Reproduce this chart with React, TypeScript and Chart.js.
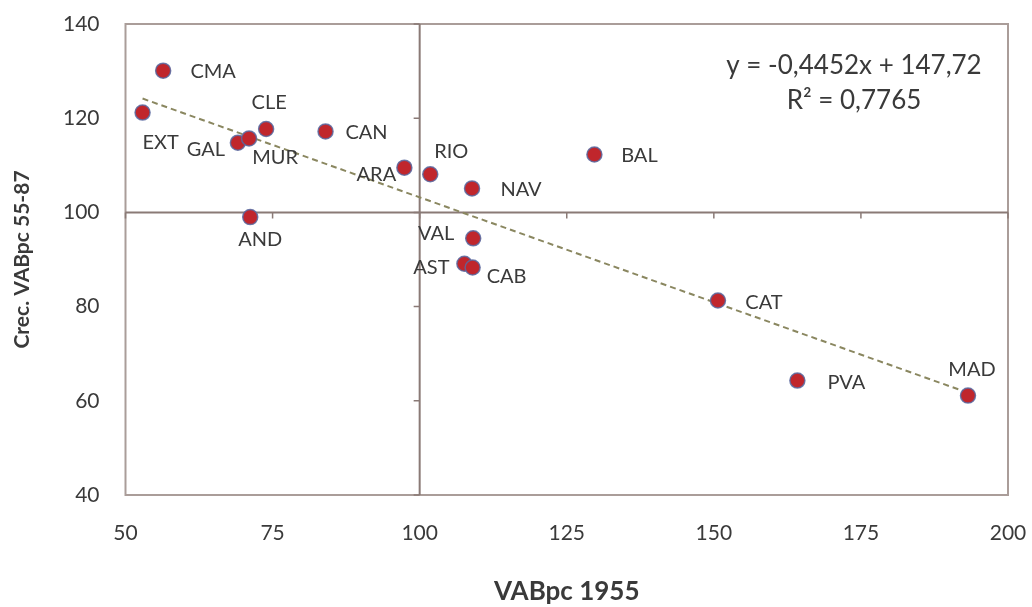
import React, { useEffect, useRef } from "react";
import { Chart, registerables } from "chart.js";

Chart.register(...registerables);

// ---- data ----
const regions = ["CMA", "EXT", "GAL", "MUR", "CLE", "CAN", "ARA", "RIO", "NAV", "BAL", "AND", "VAL", "AST", "CAB", "CAT", "PVA", "MAD"];
const vabpc1955 = [56.4, 52.9, 69.1, 71.0, 73.9, 84.0, 97.4, 101.8, 108.9, 129.7, 71.2, 109.1, 107.6, 109.0, 150.7, 164.2, 193.2];
const crecVabpc5587 = [130.1, 121.2, 114.8, 115.7, 117.7, 117.2, 109.5, 108.1, 105.1, 112.3, 99.0, 94.5, 89.1, 88.3, 81.3, 64.3, 61.1];
const xTickValues = [50, 75, 100, 125, 150, 175, 200];
const yTickValues = [40, 60, 80, 100, 120, 140];
const trendSlope = -0.4452;
const trendIntercept = 147.72;
const equationLines = ["y = -0,4452x + 147,72", "R² = 0,7765"];
const xTitle = "VABpc 1955";
const yTitle = "Crec. VABpc 55-87";
const crossX = 100;
const crossY = 100;

// ---- label placement (style, pixel offsets of label centre from its point) ----
const labelOffsets: [number, number][] = [
  [50, 1], [18, 30], [-32, 7], [26, 19], [3, -26], [41, 1], [-28, 7], [21, -23], [49, 1],
  [45, 1], [10, 22], [-37, -5], [-33, 4], [34, 9], [46, 2], [49, 2], [4, -26],
];

const FONT = "Lato, 'Open Sans', sans-serif";
const TEXT = "#3a3a3a";

const decorPlugin = {
  id: "decor",
  beforeDatasetsDraw(chart: any) {
    const { ctx, chartArea: a, scales } = chart;
    const xs = scales.x, ys = scales.y;
    ctx.save();
    // plot box
    ctx.strokeStyle = "#aa9d99";
    ctx.lineWidth = 2;
    ctx.strokeRect(a.left, a.top, a.right - a.left, a.bottom - a.top);
    // crossing axes
    ctx.strokeStyle = "#8a7a76";
    ctx.lineWidth = 2;
    const px = xs.getPixelForValue(crossX);
    const py = ys.getPixelForValue(crossY);
    ctx.beginPath();
    ctx.moveTo(px, a.top);
    ctx.lineTo(px, a.bottom);
    ctx.moveTo(a.left, py);
    ctx.lineTo(a.right, py);
    ctx.stroke();
    // tick marks on the crossing axes
    ctx.lineWidth = 1.5;
    ctx.beginPath();
    xTickValues.forEach((v) => {
      const x = xs.getPixelForValue(v);
      ctx.moveTo(x, py);
      ctx.lineTo(x, py + 6);
    });
    yTickValues.forEach((v) => {
      const y = ys.getPixelForValue(v);
      ctx.moveTo(px, y);
      ctx.lineTo(px - 6, y);
    });
    ctx.stroke();
    ctx.restore();
  },
  afterDatasetsDraw(chart: any) {
    const { ctx, chartArea: a, scales } = chart;
    const xs = scales.x, ys = scales.y;
    ctx.save();
    ctx.fillStyle = TEXT;
    ctx.textAlign = "center";
    ctx.textBaseline = "middle";
    ctx.font = `20px ${FONT}`;
    regions.forEach((name, i) => {
      const x = xs.getPixelForValue(vabpc1955[i]);
      const y = ys.getPixelForValue(crecVabpc5587[i]);
      const [dx, dy] = labelOffsets[i];
      ctx.fillText(name, x + dx, y + dy);
    });
    ctx.font = `26px ${FONT}`;
    const cx = a.right - 154;
    ctx.fillText(equationLines[0], cx, a.top + 42);
    ctx.fillText(equationLines[1], cx, a.top + 77);
    ctx.restore();
  },
};

export default function App() {
  const ref = useRef<HTMLCanvasElement | null>(null);
  useEffect(() => {
    if (!ref.current) return;
    const xMin = Math.min(...vabpc1955);
    const xMax = Math.max(...vabpc1955);
    const chart = new Chart(ref.current, {
      type: "scatter",
      data: {
        datasets: [
          {
            label: "Regiones",
            data: vabpc1955.map((x, i) => ({ x, y: crecVabpc5587[i] })),
            backgroundColor: "#c0262c",
            borderColor: "rgba(88,104,160,0.85)",
            borderWidth: 1.5,
            pointRadius: 7.5,
            pointHoverRadius: 7.5,
          },
          {
            type: "line",
            label: "Tendencia",
            data: [
              { x: xMin, y: trendSlope * xMin + trendIntercept },
              { x: xMax, y: trendSlope * xMax + trendIntercept },
            ],
            borderColor: "#8a8760",
            borderWidth: 2,
            borderDash: [6, 4],
            pointRadius: 0,
            fill: false,
          } as any,
        ],
      },
      options: {
        animation: false,
        responsive: true,
        maintainAspectRatio: false,
        layout: { padding: { left: 0, top: 24, right: 24, bottom: 0 } },
        plugins: { legend: { display: false }, tooltip: { enabled: false } },
        scales: {
          x: {
            type: "linear",
            min: 50,
            max: 200,
            afterBuildTicks: (s: any) => { s.ticks = xTickValues.map((value) => ({ value })); },
            afterFit: (s: any) => { s.height = 112; s.paddingLeft = 0; s.paddingRight = 0; },
            grid: { display: false, drawTicks: false },
            border: { display: false },
            ticks: { font: { family: FONT, size: 21 }, color: TEXT, padding: 26 },
            title: {
              display: true,
              text: xTitle,
              font: { family: FONT, size: 26, weight: "bold" },
              color: TEXT,
              padding: { top: 0, bottom: 0 },
            },
          },
          y: {
            type: "linear",
            min: 40,
            max: 140,
            afterBuildTicks: (s: any) => { s.ticks = yTickValues.map((value) => ({ value })); },
            afterFit: (s: any) => { s.width = 125.5; s.paddingTop = 0; s.paddingBottom = 0; },
            grid: { display: false, drawTicks: false },
            border: { display: false },
            ticks: { font: { family: FONT, size: 21 }, color: TEXT, padding: 26 },
            title: {
              display: true,
              text: yTitle,
              font: { family: FONT, size: 21, weight: "bold" },
              color: TEXT,
              padding: { top: 10, bottom: 0 },
            },
          },
        },
      },
      plugins: [decorPlugin],
    });
    return () => chart.destroy();
  }, []);
  return (
    <div style={{ position: "fixed", left: 0, top: 0, width: 1032, height: 607, background: "#fff" }}>
      <canvas ref={ref} />
    </div>
  );
}
